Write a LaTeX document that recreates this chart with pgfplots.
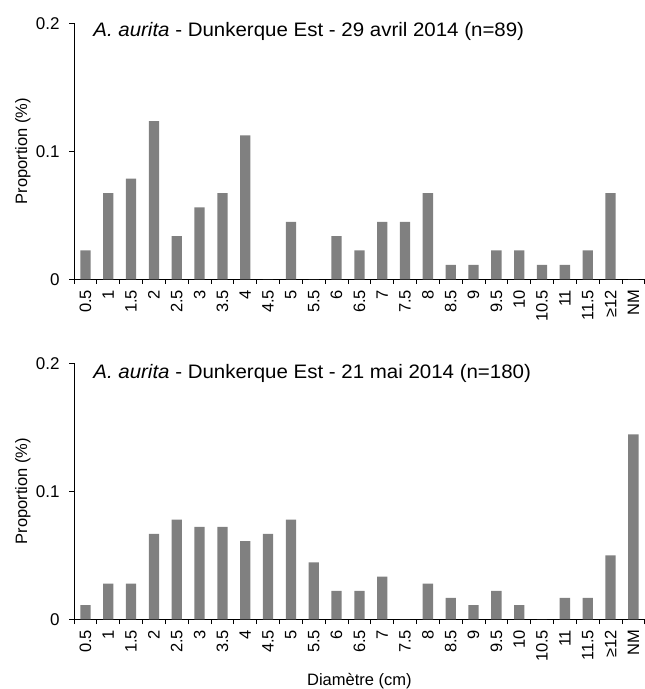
\documentclass[border=0pt]{standalone}
\usepackage{pgfplots}
\pgfplotsset{compat=1.18}
\usepackage{fontspec}
\setmainfont{Liberation Sans}
\newfontfamily\titlefont[FakeStretch=1.05]{Liberation Sans}
\definecolor{bargray}{HTML}{808080}
\pgfplotsset{
  hist/.style={
    scale only axis, width=570.8pt, height=256pt, clip=false,
    xmin=-0.5, xmax=24.5, ymin=0, ymax=0.2,
    axis lines*=left, axis line style={line width=0.9pt, black},
    tick align=outside, major tick length=0pt, minor tick length=4.7pt,
    every tick/.style={line width=0.9pt, black},
    xtick={0,...,24},
    xticklabels={0.5,1,1.5,2,2.5,3,3.5,4,4.5,5,5.5,6,6.5,7,7.5,8,8.5,9,9.5,10,10.5,11,11.5,≥12,NM},
    minor xtick={-0.5,0.5,...,24.5},
    ytick={0,0.1,0.2}, yticklabels={0,0.1,0.2},
    minor ytick={0,0.1,0.2},
    xticklabel shift=7pt, yticklabel shift=11pt,
    xticklabel style={rotate=90, anchor=east, font=\fontsize{16.5}{19}\selectfont},
    yticklabel style={font=\fontsize{17}{19}\selectfont},
    ylabel={Proportion (\%)},
    ylabel style={at={(axis description cs:-0.0894,0.5)}, anchor=center, font=\fontsize{16.5}{19}\selectfont},
    ybar, bar width=10.3pt,
  }
}
\begin{document}
\begin{tikzpicture}
\useasboundingbox (0,0) rectangle (645pt,689pt);
\begin{axis}[hist, at={(74pt,409.7pt)}, anchor=south west]
\addplot[fill=bargray, draw=none] coordinates {
(0,0.0225) (1,0.0674) (2,0.0787) (3,0.1236) (4,0.0337) (5,0.0562) (6,0.0674) (7,0.1124)
(8,0) (9,0.0449) (10,0) (11,0.0337) (12,0.0225) (13,0.0449) (14,0.0449) (15,0.0674)
(16,0.0112) (17,0.0112) (18,0.0225) (19,0.0225) (20,0.0112) (21,0.0112) (22,0.0225) (23,0.0674) (24,0)};
\node[anchor=base west, inner sep=0pt, font=\titlefont\fontsize{19.5}{23}\selectfont] at (rel axis cs:0.0336,0.948) {\textit{A. aurita} - Dunkerque Est - 29 avril 2014 (n=89)};
\end{axis}
\begin{axis}[hist, at={(74pt,69.7pt)}, anchor=south west,
  xlabel={Diamètre (cm)},
  xlabel style={at={(axis description cs:0.5,-0.257)}, anchor=base, font=\fontsize{16.5}{19}\selectfont}]
\addplot[fill=bargray, draw=none] coordinates {
(0,0.0111) (1,0.0278) (2,0.0278) (3,0.0667) (4,0.0778) (5,0.0722) (6,0.0722) (7,0.0611)
(8,0.0667) (9,0.0778) (10,0.0444) (11,0.0222) (12,0.0222) (13,0.0333) (14,0) (15,0.0278)
(16,0.0167) (17,0.0111) (18,0.0222) (19,0.0111) (20,0) (21,0.0167) (22,0.0167) (23,0.05) (24,0.1444)};
\node[anchor=base west, inner sep=0pt, font=\titlefont\fontsize{19.5}{23}\selectfont] at (rel axis cs:0.0336,0.940) {\textit{A. aurita} - Dunkerque Est - 21 mai 2014 (n=180)};
\end{axis}
\end{tikzpicture}
\end{document}
